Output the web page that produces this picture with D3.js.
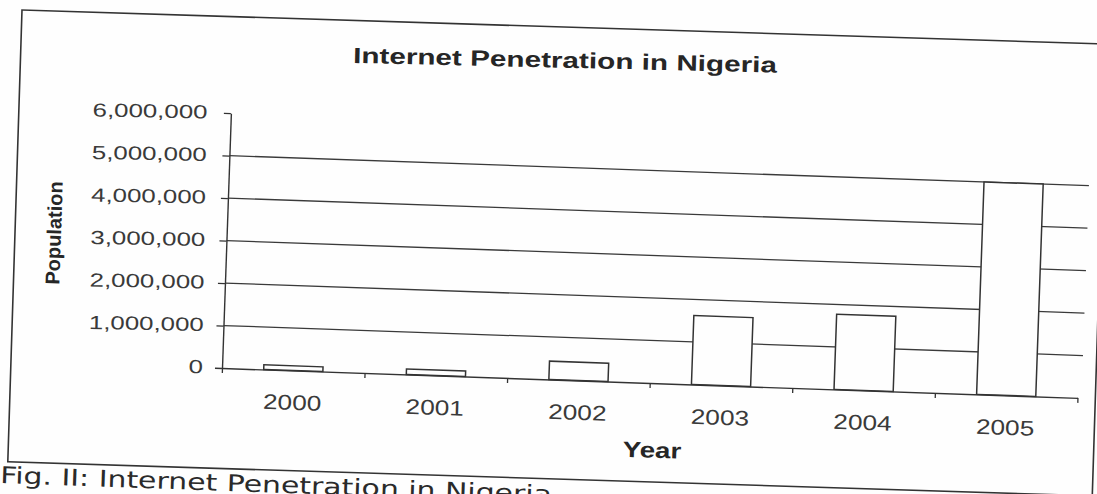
<!DOCTYPE html>
<html><head><meta charset="utf-8">
<script src="https://cdn.jsdelivr.net/npm/d3@7"></script>
<style>
html,body{margin:0;padding:0;background:#fff;}
svg{display:block;}
text{font-family:"Liberation Sans",Arial,sans-serif;fill:#2f2f2f;}
</style></head><body>
<svg id="chart" width="1097" height="494"></svg>
<script>
// ---- data ----
const years = ["2000","2001","2002","2003","2004","2005"];
const users = [110000,130000,430000,1620000,1770000,5000000];
const yTicks = [0,1000000,2000000,3000000,4000000,5000000,6000000];
const gridTicks = [1000000,2000000,3000000,4000000,5000000];
const titleText = "Internet Penetration in Nigeria";
const xTitle = "Year";
const yTitle = "Population";
const caption = "Fig. II: Internet Penetration in Nigeria";

// ---- layout ----
const W = 1097, H = 494;
const svg = d3.select("#chart");
svg.append("rect").attr("width", W).attr("height", H).attr("fill", "#fefefe");

const ink = "#333";

// outer frame (scanned page, slightly rotated)
svg.append("rect").attr("x", 0).attr("y", 0).attr("width", 1085).attr("height", 452)
  .attr("transform", "translate(22,10) rotate(1.8)")
  .attr("fill", "none").attr("stroke", ink).attr("stroke-width", 1.6);

const ox = 222, oy = 368, angle = 2.0;
const plotW = 856, plotH = 255;
const g = svg.append("g").attr("transform", `translate(${ox},${oy}) rotate(${angle})`);
const gl = svg.append("g").attr("transform", `translate(${ox},${oy}) rotate(1)`);

const x = d3.scaleBand().domain(years).range([0, plotW]).paddingInner(0.585).paddingOuter(0.2925);
const xb = d3.scaleLinear().domain([0, years.length]).range([0, plotW]);
const y = d3.scaleLinear().domain([0, 6000000]).range([0, -plotH]);

// gridlines
g.selectAll("line.grid").data(gridTicks).join("line").attr("class", "grid")
  .attr("x1", 0).attr("x2", plotW + 4).attr("y1", d => y(d)).attr("y2", d => y(d))
  .attr("stroke", "#3a3a3a").attr("stroke-width", 1.3);

// bars
g.selectAll("rect.bar").data(years).join("rect").attr("class", "bar")
  .attr("x", d => x(d)).attr("width", x.bandwidth())
  .attr("y", (d, i) => y(users[i])).attr("height", (d, i) => -y(users[i]))
  .attr("fill", "#fefefe").attr("stroke", ink).attr("stroke-width", 1.5);

// y axis
const ya = g.append("g").call(d3.axisLeft(y).tickValues(yTicks).tickSize(7).tickSizeOuter(0).tickFormat(""));
// x axis (ticks at category boundaries)
const xa = g.append("g").call(d3.axisBottom(xb).tickValues(d3.range(0, years.length + 1)).tickSize(5).tickSizeOuter(0).tickFormat(""));
[ya, xa].forEach(a => {
  a.select(".domain").attr("stroke", ink).attr("stroke-width", 1.4);
  a.selectAll(".tick line").attr("stroke", ink).attr("stroke-width", 1.3);
});

// y tick labels
const fmt = d3.format(",");
gl.selectAll("text.ylab").data(yTicks).join("text").attr("class", "ylab")
  .attr("transform", d => `translate(-19,${y(d)}) scale(1.36,1)`)
  .attr("text-anchor", "end").attr("dy", "0.3em")
  .style("font-size", "19px").style("fill", "#3a3a3a").text(d => fmt(d));

// x tick labels
g.selectAll("text.xlab").data(years).join("text").attr("class", "xlab")
  .attr("transform", d => `translate(${x(d) + x.bandwidth() / 2},32) scale(1.25,1)`)
  .attr("text-anchor", "middle").attr("dy", "0.35em")
  .style("font-size", "21px").style("fill", "#3a3a3a").text(d => d);

// title
svg.append("text")
  .attr("transform", "translate(565,60) rotate(1.3) scale(1.35,1)")
  .attr("text-anchor", "middle").attr("dy", "0.35em")
  .style("font-size", "22px").style("font-weight", "bold").style("fill", "#262626")
  .text(titleText);

// x axis title
svg.append("text")
  .attr("transform", "translate(652,450) rotate(2) scale(1.26,1)")
  .attr("text-anchor", "middle").attr("dy", "0.35em")
  .style("font-size", "22px").style("font-weight", "bold").style("fill", "#262626")
  .text(xTitle);

// y axis title
svg.append("text")
  .attr("transform", "translate(54,233) rotate(-88)")
  .attr("text-anchor", "middle").attr("dy", "0.35em")
  .style("font-size", "20px").style("font-weight", "bold").style("fill", "#262626")
  .text(yTitle);

// caption under the frame (cut by the page edge, as in the scan)
svg.append("text")
  .attr("transform", "translate(0,483) rotate(2) scale(1.3,1)")
  .attr("text-anchor", "start")
  .style("font-family", "'DejaVu Sans', Verdana, sans-serif")
  .style("font-size", "23px").style("fill", "#2a2a2a")
  .text(caption);
</script>
</body></html>
